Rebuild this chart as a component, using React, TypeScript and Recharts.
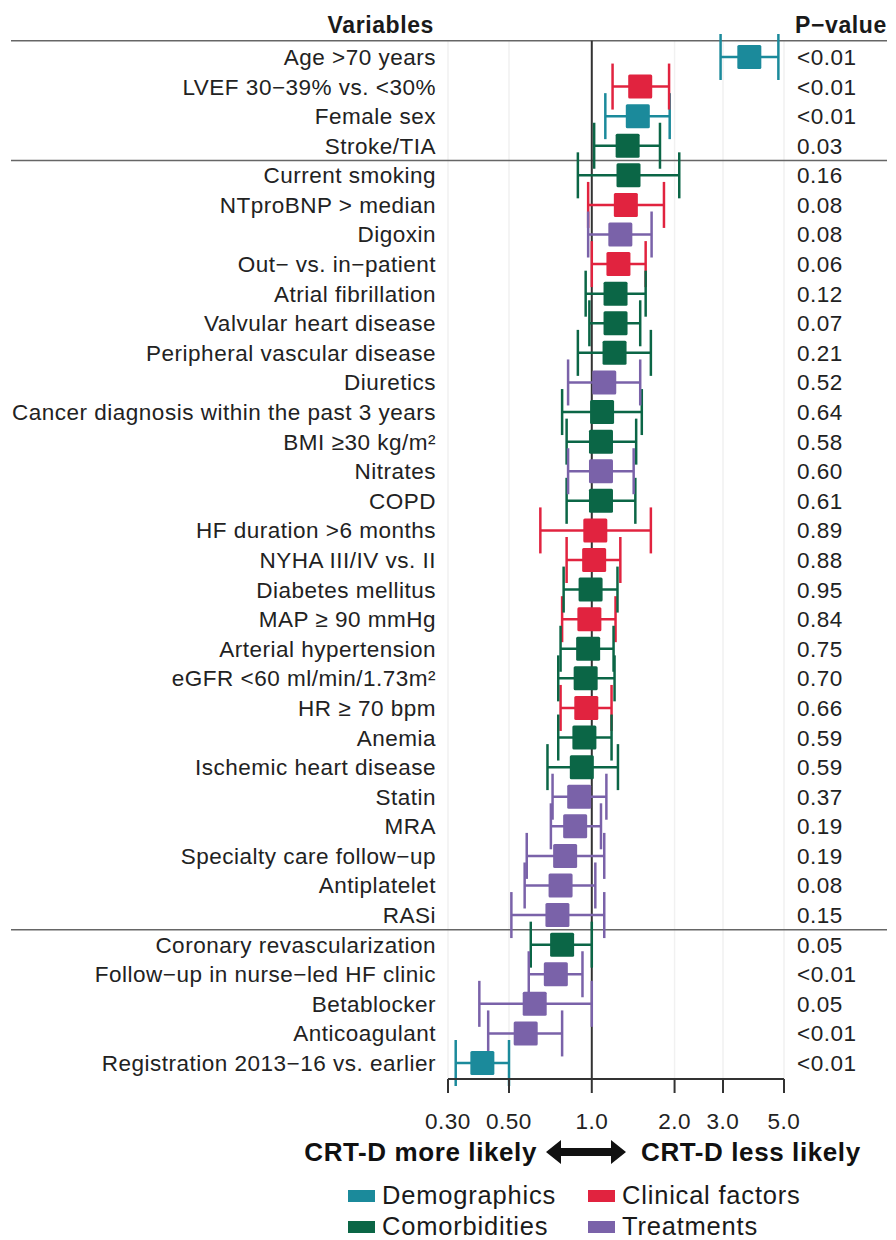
import React from 'react';
import {
  ScatterChart,
  Scatter,
  XAxis,
  YAxis,
  ErrorBar,
  ReferenceLine,
  CartesianGrid,
  Legend,
} from 'recharts';

const FONT = '"Liberation Sans", Arial, Helvetica, sans-serif';

// Rows, top to bottom
const variables = [
  'Age >70 years',
  'LVEF 30\u221239% vs. <30%',
  'Female sex',
  'Stroke/TIA',
  'Current smoking',
  'NTproBNP > median',
  'Digoxin',
  'Out\u2212 vs. in\u2212patient',
  'Atrial fibrillation',
  'Valvular heart disease',
  'Peripheral vascular disease',
  'Diuretics',
  'Cancer diagnosis within the past 3 years',
  'BMI \u226530 kg/m\u00b2',
  'Nitrates',
  'COPD',
  'HF duration >6 months',
  'NYHA III/IV vs. II',
  'Diabetes mellitus',
  'MAP \u2265 90 mmHg',
  'Arterial hypertension',
  'eGFR <60 ml/min/1.73m\u00b2',
  'HR \u2265 70 bpm',
  'Anemia',
  'Ischemic heart disease',
  'Statin',
  'MRA',
  'Specialty care follow\u2212up',
  'Antiplatelet',
  'RASi',
  'Coronary revascularization',
  'Follow\u2212up in nurse\u2212led HF clinic',
  'Betablocker',
  'Anticoagulant',
  'Registration 2013\u221216 vs. earlier',
];

const oddsRatios = [
  3.74, 1.5, 1.47, 1.35, 1.36, 1.33, 1.27, 1.25, 1.22, 1.22, 1.21, 1.11, 1.09, 1.08, 1.08, 1.08, 1.03, 1.02,
  0.99, 0.98, 0.97, 0.95, 0.955, 0.94, 0.92, 0.9, 0.87, 0.8, 0.77, 0.75, 0.78, 0.74, 0.62, 0.575, 0.4,
];

const lowerCI = [
  2.94, 1.19, 1.12, 1.02, 0.89, 0.97, 0.97, 1.0, 0.95, 0.98, 0.89, 0.82, 0.78, 0.81, 0.82, 0.81, 0.65, 0.81,
  0.79, 0.78, 0.77, 0.755, 0.77, 0.755, 0.69, 0.72, 0.71, 0.58, 0.57, 0.51, 0.6, 0.59, 0.39, 0.42, 0.32,
];

const upperCI = [
  4.77, 1.91, 1.92, 1.77, 2.08, 1.83, 1.65, 1.57, 1.57, 1.5, 1.64, 1.5, 1.52, 1.45, 1.42, 1.44, 1.64, 1.27,
  1.24, 1.22, 1.2, 1.21, 1.18, 1.18, 1.245, 1.13, 1.08, 1.11, 1.03, 1.11, 1.0, 0.925, 1.0, 0.78, 0.5,
];

const rowGroups = [
  'Demographics', 'Clinical factors', 'Demographics', 'Comorbidities', 'Comorbidities',
  'Clinical factors', 'Treatments', 'Clinical factors', 'Comorbidities', 'Comorbidities',
  'Comorbidities', 'Treatments', 'Comorbidities', 'Comorbidities', 'Treatments',
  'Comorbidities', 'Clinical factors', 'Clinical factors', 'Comorbidities', 'Clinical factors',
  'Comorbidities', 'Comorbidities', 'Clinical factors', 'Comorbidities', 'Comorbidities',
  'Treatments', 'Treatments', 'Treatments', 'Treatments', 'Treatments',
  'Comorbidities', 'Treatments', 'Treatments', 'Treatments', 'Demographics',
];

const pValues = [
  '<0.01', '<0.01', '<0.01', '0.03', '0.16', '0.08', '0.08', '0.06', '0.12', '0.07', '0.21', '0.52',
  '0.64', '0.58', '0.60', '0.61', '0.89', '0.88', '0.95', '0.84', '0.75', '0.70', '0.66', '0.59',
  '0.59', '0.37', '0.19', '0.19', '0.08', '0.15', '0.05', '<0.01', '0.05', '<0.01', '<0.01',
];

const groups = ['Demographics', 'Clinical factors', 'Comorbidities', 'Treatments'];
const groupColors = ['#1B8A9B', '#E1233F', '#0B6646', '#7A62A9'];

const xTicks = [0.3, 0.5, 1, 2, 3, 5];
const xTickLabels = ['0.30', '0.50', '1.0', '2.0', '3.0', '5.0'];

// row separators (between blocks)
const separators = [3.5, 29.5];

const rowTicks = variables.map((_, i) => i);

const seriesData = (group: string) =>
  variables
    .map((name, i) => ({
      name,
      x: oddsRatios[i],
      y: i,
      err: [oddsRatios[i] - lowerCI[i], upperCI[i] - oddsRatios[i]],
      group: rowGroups[i],
    }))
    .filter((d) => d.group === group);

const Square = (props: any) => {
  const { cx, cy, fill } = props;
  if (cx == null || cy == null) return null;
  return <rect x={cx - 12} y={cy - 12} width={24} height={24} rx={1.5} fill={fill} />;
};

const WideLine = (props: any) => (
  <line x1={11} x2={887} y1={props.y1} y2={props.y1} stroke="#666" strokeWidth={1.5} />
);

const renderLegend = (props: any) => {
  const payload = props.payload || [];
  return (
    <div
      style={{
        display: 'grid',
        gridTemplateColumns: '240px auto',
        fontFamily: FONT,
        fontSize: 25.5,
        letterSpacing: 0.8,
        color: '#1a1a1a',
      }}
    >
      {groups.map((g, i) => {
        const entry = payload.find((p: any) => p.value === g);
        return (
          <div key={g} style={{ display: 'flex', alignItems: 'center', height: 31 }}>
            <span
              style={{
                display: 'inline-block',
                width: 27,
                height: 12,
                marginRight: 7,
                background: entry ? entry.color : groupColors[i],
              }}
            />
            <span>{g}</span>
          </div>
        );
      })}
    </div>
  );
};

export default function App() {
  const tickStyle = { fontSize: 22.5, fill: '#222', fontFamily: FONT, letterSpacing: 0.5 };
  return (
    <div
      style={{
        position: 'absolute',
        left: 0,
        top: 0,
        width: 896,
        height: 1240,
        background: '#fff',
        fontFamily: FONT,
      }}
    >
      <ScatterChart width={896} height={1240} margin={{ top: 40.7, right: 0, bottom: 101, left: 0 }}>
        <CartesianGrid yAxisId="left" horizontal={false} vertical stroke="#f1f1f1" strokeWidth={1.5} />
        <XAxis
          dataKey="x"
          type="number"
          scale="log"
          domain={[0.3, 5]}
          allowDataOverflow
          ticks={xTicks}
          interval={0}
          height={60}
          tickSize={14}
          tickMargin={20}
          tickFormatter={(v: number) => xTickLabels[xTicks.indexOf(v)] ?? String(v)}
          stroke="#333"
          strokeWidth={2}
          tick={tickStyle}
        />
        <YAxis
          yAxisId="left"
          orientation="left"
          dataKey="y"
          type="number"
          domain={[-0.55, 34.54]}
          allowDataOverflow
          reversed
          ticks={rowTicks}
          interval={0}
          width={448}
          tickLine={false}
          axisLine={false}
          tickSize={6}
          tickMargin={6}
          tickFormatter={(v: number) => variables[v]}
          tick={tickStyle}
        />
        <YAxis
          yAxisId="right"
          orientation="right"
          type="number"
          domain={[-0.55, 34.54]}
          allowDataOverflow
          reversed
          ticks={rowTicks}
          interval={0}
          width={112}
          tickLine={false}
          axisLine={false}
          tickSize={6}
          tickMargin={7}
          tickFormatter={(v: number) => pValues[v]}
          tick={tickStyle}
        />
        <ReferenceLine yAxisId="left" y={-0.55} ifOverflow="visible" shape={WideLine} />
        {separators.map((s) => (
          <ReferenceLine key={s} yAxisId="left" y={s} ifOverflow="visible" shape={WideLine} />
        ))}
        <ReferenceLine yAxisId="left" x={1} stroke="#333" strokeWidth={2} />
        {groups.map((g, i) => (
          <Scatter
            key={g}
            name={g}
            yAxisId="left"
            data={seriesData(g)}
            fill={groupColors[i]}
            shape={Square}
            legendType="rect"
            isAnimationActive={false}
          >
            <ErrorBar
              dataKey="err"
              direction="x"
              width={23}
              stroke={groupColors[i]}
              strokeWidth={2.5}
              isAnimationActive={false}
            />
          </Scatter>
        ))}
        <Legend
          layout="horizontal"
          verticalAlign="middle"
          align="center"
          wrapperStyle={{ top: 1180, left: 348, width: 540, height: 64 }}
          content={renderLegend}
        />
      </ScatterChart>
      <svg
        width={896}
        height={1240}
        style={{ position: 'absolute', left: 0, top: 0, pointerEvents: 'none' }}
        fontFamily={FONT}
      >
        <text x={434} y={33} textAnchor="end" fontWeight="bold" fontSize={23} letterSpacing={0.6} fill="#1a1a1a">
          Variables
        </text>
        <text x={795} y={33} textAnchor="start" fontWeight="bold" fontSize={23} letterSpacing={0.6} fill="#1a1a1a">
          P{'\u2212'}value
        </text>
        <text x={537} y={1161} textAnchor="end" fontWeight="bold" fontSize={26} letterSpacing={0.6} fill="#111">
          CRT-D more likely
        </text>
        <text x={641} y={1161} textAnchor="start" fontWeight="bold" fontSize={26} letterSpacing={0.6} fill="#111">
          CRT-D less likely
        </text>
        <polygon
          points="546,1152 561,1140 561,1148 611,1148 611,1140 626,1152 611,1164 611,1156 561,1156 561,1164"
          fill="#111"
        />
      </svg>
    </div>
  );
}
